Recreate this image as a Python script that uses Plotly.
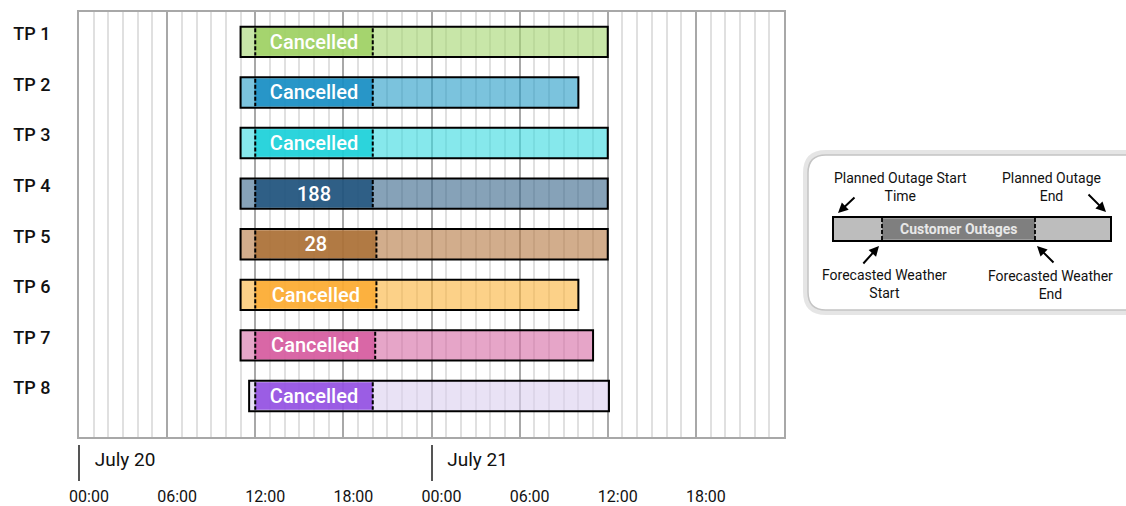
import plotly.graph_objects as go
from datetime import datetime

# ---------------- data ----------------
names = ["TP 1", "TP 2", "TP 3", "TP 4", "TP 5", "TP 6", "TP 7", "TP 8"]
planned_start = ["2023-07-20 11:00", "2023-07-20 11:00", "2023-07-20 11:00", "2023-07-20 11:00",
                 "2023-07-20 11:00", "2023-07-20 11:00", "2023-07-20 11:00", "2023-07-20 11:35"]
planned_end = ["2023-07-21 12:00", "2023-07-21 10:00", "2023-07-21 12:00", "2023-07-21 12:00",
               "2023-07-21 12:00", "2023-07-21 10:00", "2023-07-21 11:00", "2023-07-21 12:05"]
weather_start = ["2023-07-20 12:00"] * 8
weather_end = ["2023-07-20 20:00", "2023-07-20 20:00", "2023-07-20 20:00", "2023-07-20 20:00",
               "2023-07-20 20:15", "2023-07-20 20:15", "2023-07-20 20:10", "2023-07-20 20:00"]
outage_labels = ["Cancelled", "Cancelled", "Cancelled", "188", "28", "Cancelled", "Cancelled", "Cancelled"]

time_ticks = ["2023-07-20 00:00", "2023-07-20 06:00", "2023-07-20 12:00", "2023-07-20 18:00",
              "2023-07-21 00:00", "2023-07-21 06:00", "2023-07-21 12:00", "2023-07-21 18:00"]
time_labels = ["00:00", "06:00", "12:00", "18:00", "00:00", "06:00", "12:00", "18:00"]
day_ticks = ["2023-07-20 00:00", "2023-07-21 00:00"]
day_labels = ["July 20", "July 21"]
x_range = ["2023-07-20 00:00", "2023-07-22 00:00"]

# ---------------- styles ----------------
light_colors = [(200, 230, 168), (123, 195, 221), (134, 232, 236), (134, 162, 184),
                (210, 173, 140), (252, 209, 136), (230, 165, 200), (233, 226, 245)]
dark_colors = [(165, 212, 110), (40, 150, 200), (45, 212, 220), (47, 95, 134),
               (176, 122, 69), (251, 176, 64), (216, 103, 166), (155, 93, 229)]
A_OUT, A_IN = 0.62, 0.82
FONT = "Roboto, 'Open Sans', sans-serif"
W, H = 1126, 506


def rgba_over(target, bg, a):
    c = [max(0, min(255, (t - (1 - a) * b) / a)) for t, b in zip(target, bg)]
    return f"rgba({c[0]:.0f},{c[1]:.0f},{c[2]:.0f},{a})"


def parse(s):
    return datetime.strptime(s, "%Y-%m-%d %H:%M")


def dur_ms(a, b):
    return (parse(b) - parse(a)).total_seconds() * 1000


idx = list(range(len(names)))
outer_fill = [rgba_over(c, (255, 255, 255), A_OUT) for c in light_colors]
inner_fill = [rgba_over(d, l, A_IN) for d, l in zip(dark_colors, light_colors)]

fig = go.Figure()

fig.add_trace(go.Bar(
    orientation="h", y=idx, base=planned_start,
    x=[dur_ms(a, b) for a, b in zip(planned_start, planned_end)],
    width=0.6, marker=dict(color=outer_fill, line=dict(color="black", width=2)),
    hoverinfo="skip"))

fig.add_trace(go.Bar(
    orientation="h", y=idx, base=weather_start,
    x=[dur_ms(a, b) for a, b in zip(weather_start, weather_end)],
    width=0.545, marker=dict(color=inner_fill, line=dict(width=0)),
    text=outage_labels, textposition="inside", insidetextanchor="middle",
    constraintext="none", textangle=0,
    textfont=dict(color="white", size=20, family=FONT, weight=500),
    hoverinfo="skip"))

# dashed edges of the forecasted-weather window
HALF = 0.27
dx, dy = [], []
for i, s, e in zip(idx, weather_start, weather_end):
    for t in (s, e):
        dx += [t, t, None]
        dy += [i - HALF, i + HALF, None]
fig.add_trace(go.Scatter(x=dx, y=dy, mode="lines",
                         line=dict(color="black", width=2, dash="4px,2px"),
                         hoverinfo="skip"))

# day-level axis carrier
fig.add_trace(go.Scatter(x=day_ticks, y=[0, 0], xaxis="x2", mode="markers",
                         marker=dict(opacity=0), hoverinfo="skip"))

fig.update_layout(
    width=W, height=H, margin=dict(l=0, r=0, t=0, b=0, autoexpand=False),
    plot_bgcolor="white", paper_bgcolor="white",
    showlegend=False, barmode="overlay",
    font=dict(family=FONT, color="#111"),
    xaxis=dict(
        type="date", domain=[79 / W, 784 / W], range=x_range, anchor="y",
        automargin=False,
        tickmode="array", tickvals=time_ticks, ticktext=time_labels,
        ticks="", showgrid=True, gridcolor="#a8a8a8", gridwidth=1.6,
        minor=dict(dtick=3600000, tick0="2023-07-20 00:00", showgrid=True,
                   gridcolor="#e0e0e0", gridwidth=1.8, ticks=""),
        showline=True, linecolor="#a8a8a8", linewidth=2, mirror=True,
        zeroline=False, tickfont=dict(size=16, family=FONT, color="#111"),
        ticklabelstandoff=44, ticklabelshift=10),
    xaxis2=dict(
        type="date", overlaying="x", anchor="free", position=1 - 444 / H,
        automargin=False,
        side="bottom", range=x_range, tickmode="array", tickvals=day_ticks,
        ticktext=day_labels, ticks="outside", ticklen=36, tickwidth=2,
        tickcolor="#555", showgrid=False, showline=False, zeroline=False,
        tickfont=dict(size=19, family=FONT, color="#111"),
        ticklabelstandoff=-38, ticklabelshift=46),
    yaxis=dict(
        domain=[1 - 437 / H, 1 - 12 / H], range=[7.81, -0.59],
        automargin=False,
        tickmode="array", tickvals=idx, ticktext=names,
        ticks="", showgrid=False, zeroline=False,
        showline=True, linecolor="#a8a8a8", linewidth=2, mirror=True,
        tickfont=dict(size=18, family=FONT, color="#111", weight=500),
        ticklabelstandoff=23, ticklabelshift=8),
)

# ---------------- explanatory inset (decoration) ----------------
def px(x):
    return x / W


def py(y):
    return 1 - y / H


def rounded(x0, y0, x1, y1, r):
    return (f"M {px(x0 + r)} {py(y0)} L {px(x1 - r)} {py(y0)} "
            f"Q {px(x1)} {py(y0)} {px(x1)} {py(y0 + r)} L {px(x1)} {py(y1 - r)} "
            f"Q {px(x1)} {py(y1)} {px(x1 - r)} {py(y1)} L {px(x0 + r)} {py(y1)} "
            f"Q {px(x0)} {py(y1)} {px(x0)} {py(y1 - r)} L {px(x0)} {py(y0 + r)} "
            f"Q {px(x0)} {py(y0)} {px(x0 + r)} {py(y0)} Z")


shapes = [
    dict(type="path", xref="paper", yref="paper", path=rounded(806, 153, 1150, 312, 20),
         line=dict(color="rgba(0,0,0,0.10)", width=6), fillcolor="white"),
    dict(type="path", xref="paper", yref="paper", path=rounded(808, 155, 1150, 310, 18),
         line=dict(color="#c4c4c4", width=1.5), fillcolor="white"),
    dict(type="rect", xref="paper", yref="paper", x0=px(833), x1=px(1111), y0=py(217), y1=py(241),
         line=dict(color="black", width=2), fillcolor="#bdbdbd"),
    dict(type="rect", xref="paper", yref="paper", x0=px(882), x1=px(1035), y0=py(218.5), y1=py(239.5),
         line=dict(width=0), fillcolor="#7f7f7f"),
    dict(type="line", xref="paper", yref="paper", x0=px(882), x1=px(882), y0=py(218), y1=py(240),
         line=dict(color="black", width=1.8, dash="4px,2px")),
    dict(type="line", xref="paper", yref="paper", x0=px(1035), x1=px(1035), y0=py(218), y1=py(240),
         line=dict(color="black", width=1.8, dash="4px,2px")),
]
fig.update_layout(shapes=shapes)

ann_font = dict(size=14, family=FONT, color="#111")
annotations = [
    dict(x=px(958), y=py(229), text="Customer Outages",
         font=dict(size=14, family=FONT, color="#e8e8e8", weight="bold")),
    dict(x=px(900), y=py(187), text="Planned Outage Start<br>Time", font=ann_font),
    dict(x=px(1051), y=py(187), text="Planned Outage<br>End", font=ann_font),
    dict(x=px(885), y=py(284), text="Forecasted Weather<br>Start", font=ann_font),
    dict(x=px(1050), y=py(285), text="Forecasted Weather<br>End", font=ann_font),
]
for a in annotations:
    a.update(xref="paper", yref="paper", showarrow=False, xanchor="center", yanchor="middle")

arrows = [((838, 213), (856, 196)), ((1106, 212), (1087, 193)),
          ((879, 246), (862, 265)), ((1037, 246), (1055, 264))]
for (hx, hy), (tx, ty) in arrows:
    annotations.append(dict(xref="paper", yref="paper", x=px(hx), y=py(hy),
                            ax=tx - hx, ay=ty - hy, text="", showarrow=True,
                            arrowhead=2, arrowsize=1, arrowwidth=2, arrowcolor="black"))
fig.update_layout(annotations=annotations)

fig.write_html("out.html")
